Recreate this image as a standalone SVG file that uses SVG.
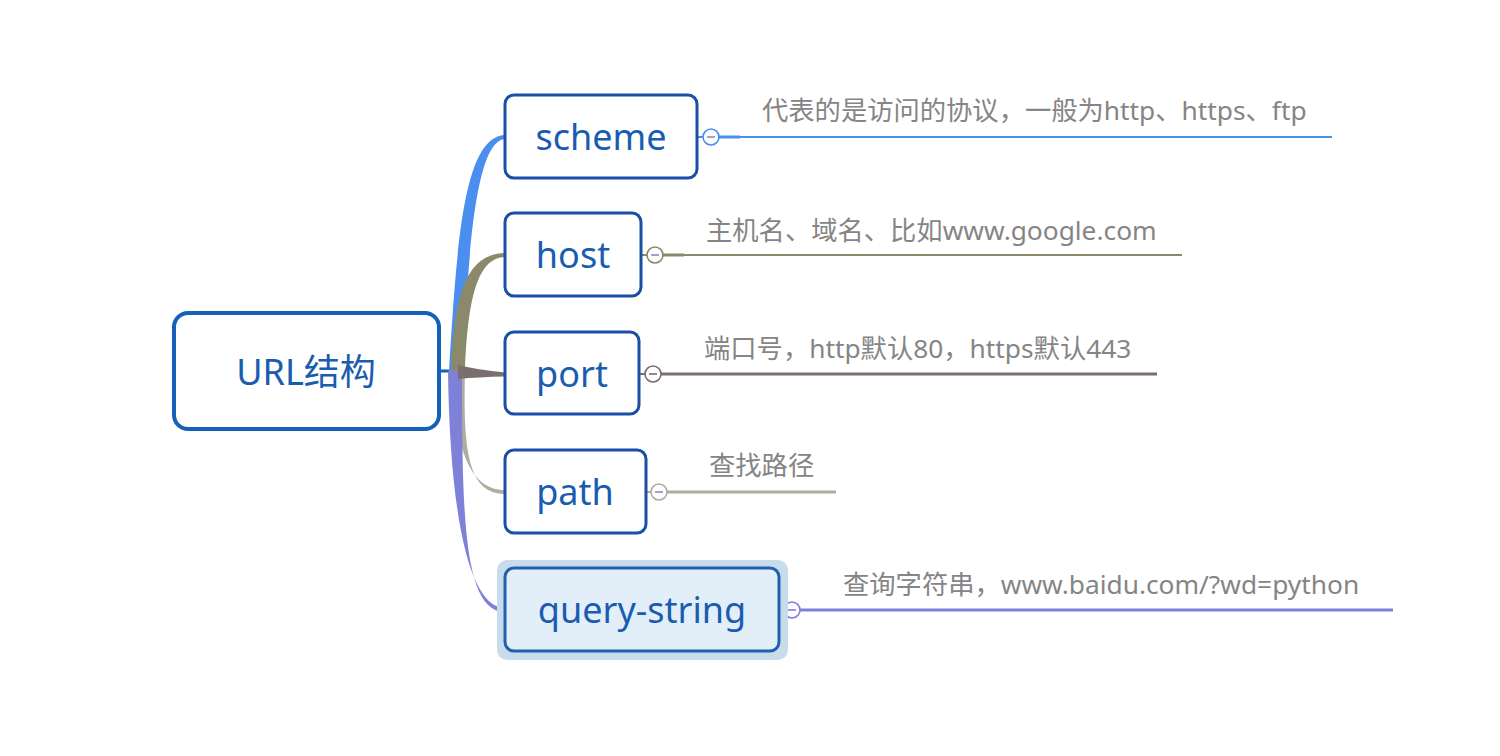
<svg xmlns="http://www.w3.org/2000/svg" width="1500" height="756" viewBox="0 0 1500 756">
<style>
.node{fill:#fff;stroke:#1a4fa6;stroke-width:3}
.nt{font-family:"Noto Sans","Noto Sans CJK SC",sans-serif;font-size:36px;fill:#1a5cb0;text-anchor:middle}
.lbl{font-family:"Noto Sans","Noto Sans CJK SC",sans-serif;font-size:26.3px;fill:#858585}
.tog{fill:#fff;stroke-width:1.6}
.minus{stroke-width:1.6}
</style>
<rect width="1500" height="756" fill="#fff"/>
<g id="connectors">
  <line x1="439" y1="371" x2="458" y2="371" stroke="#1560b8" stroke-width="3"/>
  <path d="M449 371 C457 240 464 137 505 135 L505 139 C476 141 468 250 463 371 Z" fill="#4a8ef0"/>
  <path d="M451 371 C454 290 468 254 505 253 L505 257 C480 258 468 290 465 371 Z" fill="#8a8a6a"/>
  <path d="M452 371 C455 450 470 490 505 490 L505 494 C468 494 463 450 465 371 Z" fill="#b0ad9e"/>
  <path d="M448 371 C450 520 470 608 505 608 L505 612 C464 612 462 520 462 371 Z" fill="#7f80d8"/>
  <path d="M458 365 Q478 370 505 372.5 L505 376.5 Q478 377 458 379 Z" fill="#7a6e6e"/>
  <!-- scheme -->
  <line x1="697" y1="137" x2="703" y2="137" stroke="#4a8ef0" stroke-width="2"/>
  <line x1="719" y1="137" x2="740" y2="137" stroke="#4a8ef0" stroke-width="3"/>
  <line x1="719" y1="137" x2="1332" y2="137" stroke="#4a8ef0" stroke-width="2"/>
  <!-- host -->
  <line x1="641" y1="255" x2="647" y2="255" stroke="#8a8a6a" stroke-width="2"/>
  <line x1="663" y1="255" x2="684" y2="255" stroke="#8a8a6a" stroke-width="3"/>
  <line x1="663" y1="255" x2="1182" y2="255" stroke="#8a8a6a" stroke-width="2"/>
  <!-- port -->
  <line x1="639" y1="374" x2="645" y2="374" stroke="#7a6e6e" stroke-width="2"/>
  <line x1="661" y1="374" x2="1157" y2="374" stroke="#7a6e6e" stroke-width="3"/>
  <!-- path -->
  <line x1="646" y1="492" x2="651" y2="492" stroke="#b0ad9e" stroke-width="2"/>
  <line x1="667" y1="492" x2="836" y2="492" stroke="#b0ad9e" stroke-width="3"/>
  <!-- query -->
  <line x1="779" y1="610" x2="784" y2="610" stroke="#7f80d8" stroke-width="2"/>
  <line x1="800" y1="610" x2="1393" y2="610" stroke="#7f80d8" stroke-width="3"/>
  <!-- toggles -->
  <circle class="tog" cx="711" cy="137" r="8" stroke="#4a8ef0"/>
  <line class="minus" x1="707" y1="137" x2="715" y2="137" stroke="#8a8ad0"/>
  <circle class="tog" cx="655" cy="255" r="8" stroke="#8a8a6a"/>
  <line class="minus" x1="651" y1="255" x2="659" y2="255" stroke="#8a8ad0"/>
  <circle class="tog" cx="653" cy="374" r="8" stroke="#7a6e6e"/>
  <line class="minus" x1="649" y1="374" x2="657" y2="374" stroke="#7a6e6e"/>
  <circle class="tog" cx="659" cy="492" r="8" stroke="#b0ad9e"/>
  <line class="minus" x1="655" y1="492" x2="663" y2="492" stroke="#8a8ad0"/>
  <circle class="tog" cx="792" cy="610" r="8" stroke="#7f80d8"/>
  <line class="minus" x1="788" y1="610" x2="796" y2="610" stroke="#7f80d8"/>
</g>
<g id="root">
  <rect x="174" y="313" width="265" height="116" rx="14" fill="#fff" stroke="#1560b8" stroke-width="4"/>
  <text class="nt" x="306" y="385">URL结构</text>
</g>
<g id="scheme">
  <rect class="node" x="505" y="95" width="192" height="83" rx="9"/>
  <text class="nt" x="601" y="150">scheme</text>
  <text class="lbl" x="762" y="120">代表的是访问的协议，一般为http、https、ftp</text>
</g>
<g id="host">
  <rect class="node" x="505" y="213" width="136" height="83" rx="9"/>
  <text class="nt" x="573" y="268">host</text>
  <text class="lbl" x="706" y="240">主机名、域名、比如www.google.com</text>
</g>
<g id="port">
  <rect class="node" x="505" y="332" width="134" height="82" rx="9"/>
  <text class="nt" x="572" y="387">port</text>
  <text class="lbl" x="704" y="358">端口号，http默认80，https默认443</text>
</g>
<g id="path">
  <rect class="node" x="505" y="450" width="141" height="83" rx="9"/>
  <text class="nt" x="575" y="505">path</text>
  <text class="lbl" x="709" y="475">查找路径</text>
</g>
<g id="query-string">
  <rect x="497" y="560" width="291" height="100" rx="10" fill="#c9dcec"/>
  <rect x="505" y="568" width="274" height="83" rx="9" fill="#e3eff8" stroke="#2060b0" stroke-width="3"/>
  <text class="nt" x="642" y="623">query-string</text>
  <text class="lbl" x="843" y="594">查询字符串，www.baidu.com/?wd=python</text>
</g>
</svg>
